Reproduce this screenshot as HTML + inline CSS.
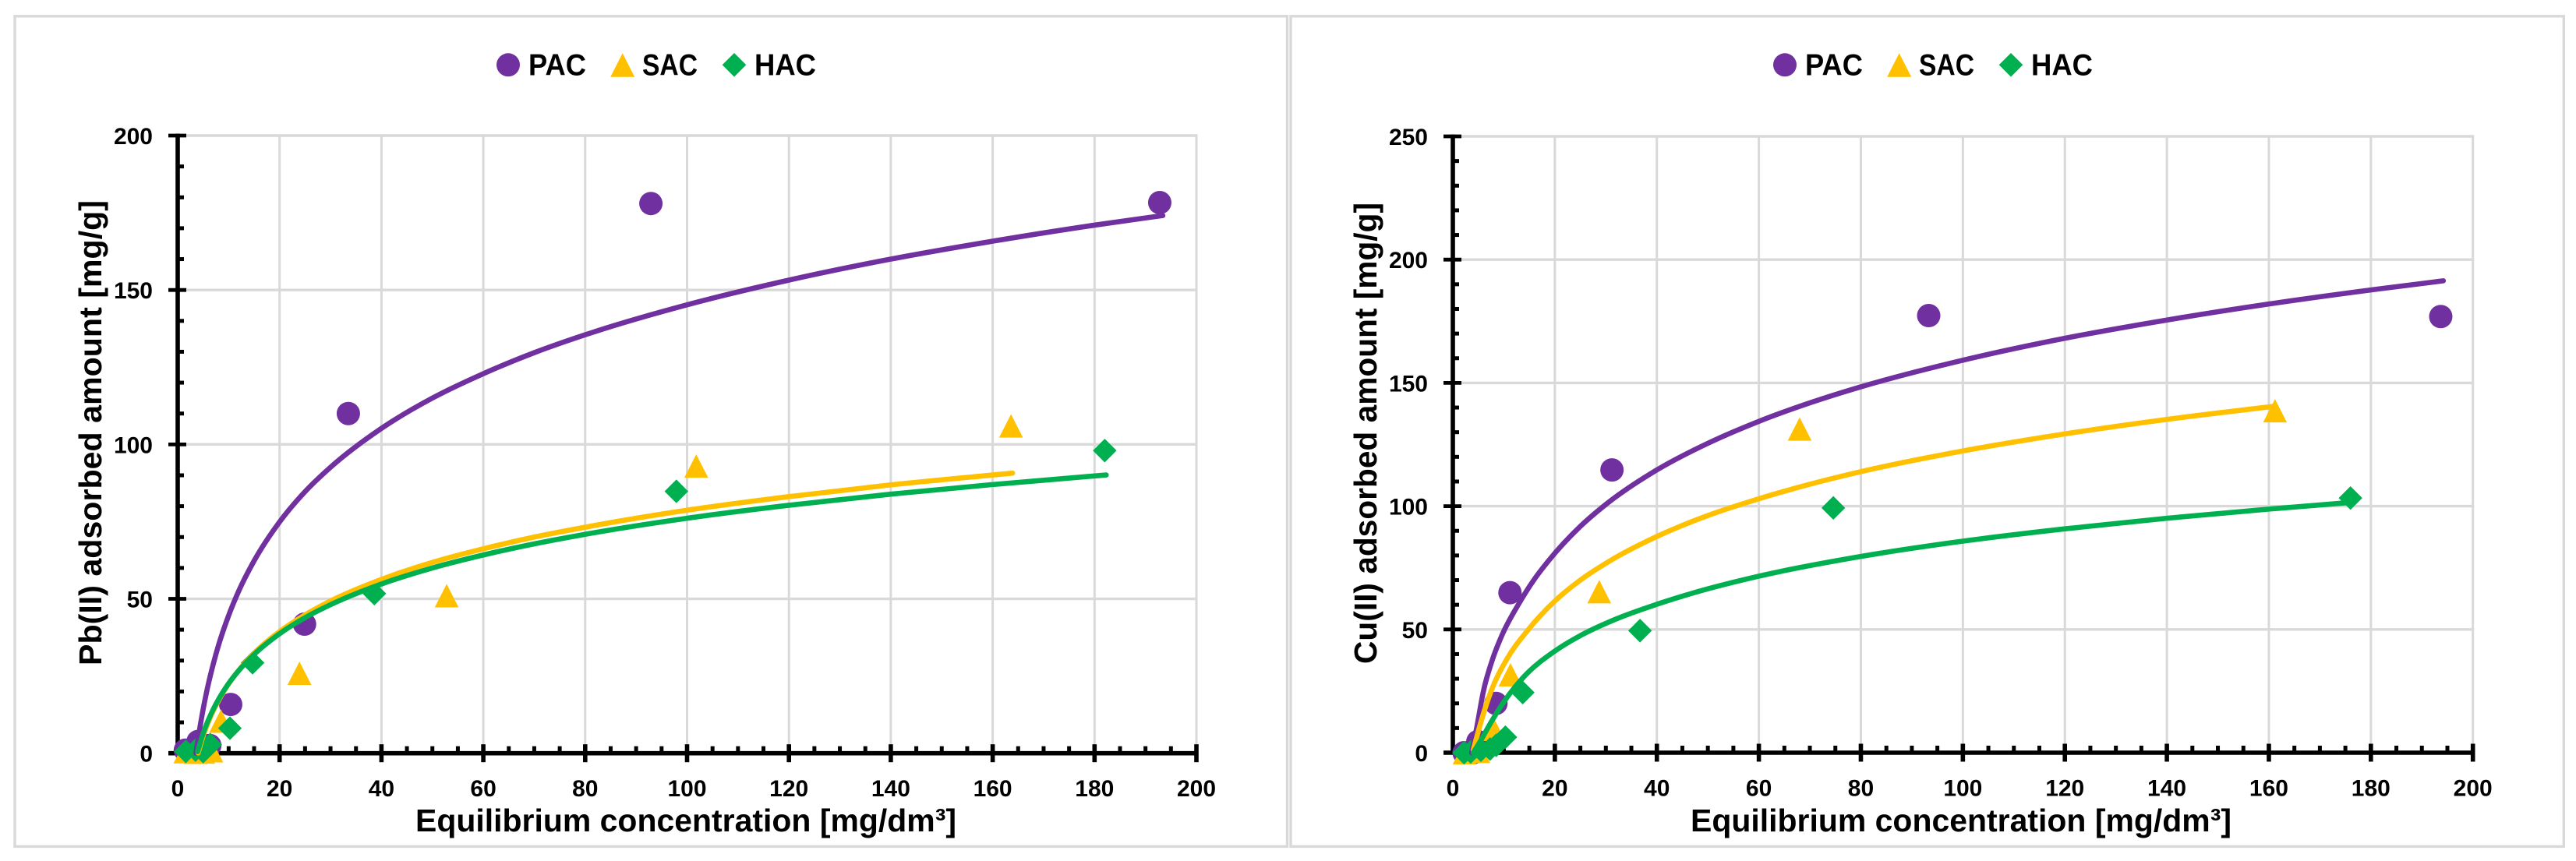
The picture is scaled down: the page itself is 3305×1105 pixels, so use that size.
<!DOCTYPE html>
<html lang="en">
<head>
<meta charset="utf-8">
<title>Pb(II) and Cu(II) adsorption isotherms</title>
<style>
html,body{margin:0;padding:0;background:#fff;width:3305px;height:1105px;overflow:hidden}
svg{display:block}
text{font-family:"Liberation Sans",Arial,sans-serif;font-weight:700;fill:#000}
</style>
</head>
<body>
<svg id="figure" xmlns="http://www.w3.org/2000/svg" width="3305" height="1105" viewBox="0 0 3305 1105">
  <rect x="0" y="0" width="3305" height="1105" fill="#fff"/>
  <rect x="19" y="20.8" width="1632.5" height="1065.6" fill="#fff" stroke="#d9d9d9" stroke-width="3.4"/>
  <rect x="1656" y="20.8" width="1633.3" height="1065.6" fill="#fff" stroke="#d9d9d9" stroke-width="3.4"/>
  <g id="left-chart"></g>
  <g id="right-chart"></g>

  <g>
    <circle cx="652" cy="83.3" r="15" fill="#7030A0"/>
    <text x="678" y="96.7" font-size="39" textLength="74" lengthAdjust="spacingAndGlyphs">PAC</text>
    <polygon points="798.7,68.3 814.2,98.7 783.2,98.7" fill="#FFC000"/>
    <text x="824" y="96.7" font-size="39" textLength="71" lengthAdjust="spacingAndGlyphs">SAC</text>
    <polygon points="942,68 957.3,83.3 942,98.6 926.7,83.3" fill="#00B050"/>
    <text x="968" y="96.7" font-size="39" textLength="79" lengthAdjust="spacingAndGlyphs">HAC</text>
  </g>
  <g transform="translate(1638 0)">
    <circle cx="652" cy="83.3" r="15" fill="#7030A0"/>
    <text x="678" y="96.7" font-size="39" textLength="74" lengthAdjust="spacingAndGlyphs">PAC</text>
    <polygon points="798.7,68.3 814.2,98.7 783.2,98.7" fill="#FFC000"/>
    <text x="824" y="96.7" font-size="39" textLength="71" lengthAdjust="spacingAndGlyphs">SAC</text>
    <polygon points="942,68 957.3,83.3 942,98.6 926.7,83.3" fill="#00B050"/>
    <text x="968" y="96.7" font-size="39" textLength="79" lengthAdjust="spacingAndGlyphs">HAC</text>
  </g>

  <text x="533" y="1067" font-size="41" textLength="694" lengthAdjust="spacingAndGlyphs">Equilibrium concentration [mg/dm³]</text>
  <text x="2169" y="1067" font-size="41" textLength="694" lengthAdjust="spacingAndGlyphs">Equilibrium concentration [mg/dm³]</text>
  <text x="130" y="854" font-size="41" textLength="597" lengthAdjust="spacingAndGlyphs" transform="rotate(-90 130 854)">Pb(II) adsorbed amount [mg/g]</text>
  <text x="1766" y="852" font-size="41" textLength="592" lengthAdjust="spacingAndGlyphs" transform="rotate(-90 1766 852)">Cu(II) adsorbed amount [mg/g]</text>
</svg>

<script>
/* ---------- shared axis values ---------- */
const xTickLabels = [0, 20, 40, 60, 80, 100, 120, 140, 160, 180, 200];
const xMinorStep = 5;
const yMinorStep = 10;

/* ---------- Pb(II) chart values ---------- */
const pbYTickLabels = [0, 50, 100, 150, 200];
const pbPacX = [1.5, 4, 6.3, 10.4, 24.9, 33.5, 92.9, 192.8];
const pbPacY = [1, 3.8, 2.5, 15.8, 41.8, 110, 178, 178.3];
const pbSacX = [1.5, 3.5, 5, 6.6, 8.5, 23.9, 52.8, 101.8, 163.6];
const pbSacY = [0.5, 0.3, 0.4, 0.8, 10.4, 25.9, 51, 93, 106];
const pbHacX = [1.6, 3.5, 5, 6.4, 10.25, 14.7, 38.6, 97.9, 182];
const pbHacY = [0.6, 1, 0.5, 2.8, 8.1, 29.3, 51.7, 84.8, 98];
const pbPacCurveX = [3.6, 4, 5, 6, 7, 8, 10, 12, 15, 20, 25, 30, 40, 50, 60, 70, 80, 100, 120, 140, 160, 180, 193.4];
const pbPacCurveY = [0, 4.6, 14.3, 22.3, 29, 34.9, 44.6, 52.6, 62.3, 74.9, 84.7, 92.6, 105.2, 115, 122.9, 129.7, 135.5, 145.2, 153.2, 160, 165.8, 171, 174.1];
const pbSacCurveX = [4, 5, 6, 7, 8, 10, 12, 15, 20, 25, 30, 40, 50, 60, 70, 80, 100, 120, 140, 163.9];
const pbSacCurveY = [0.1, 5.6, 10, 13.8, 17, 22.5, 26.9, 32.4, 39.4, 44.8, 49.3, 56.3, 61.8, 66.2, 70, 73.2, 78.7, 83.1, 86.9, 90.7];
const pbHacCurveX = [3.9, 5, 6, 7, 8, 10, 12, 15, 20, 25, 30, 40, 50, 60, 70, 80, 100, 120, 140, 160, 182.3];
const pbHacCurveY = [0.5, 6.4, 10.7, 14.3, 17.4, 22.6, 26.8, 32, 38.7, 43.9, 48.1, 54.8, 60, 64.2, 67.8, 70.9, 76.1, 80.3, 83.9, 87, 90.1];

/* ---------- Cu(II) chart values ---------- */
const cuYTickLabels = [0, 50, 100, 150, 200, 250];
const cuPacX = [2.2, 4, 4.9, 8.45, 11.2, 31.2, 93.3, 193.7];
const cuPacY = [0, 0, 4.5, 20, 64.9, 114.7, 177.3, 176.9];
const cuSacX = [2.3, 5, 8, 11.3, 28.7, 68, 161.2];
const cuSacY = [0, 0.5, 9.5, 31.6, 65.3, 131.3, 138.7];
const cuHacX = [2.2, 3.5, 5.5, 7.3, 8.5, 10.3, 13.7, 36.7, 74.6, 176];
const cuHacY = [0, 0.3, 1, 1.5, 3, 6.3, 24.4, 49.5, 99.3, 103.3];
const cuPacCurveX = [3.7, 4.7, 6, 7.8, 9.6, 13.1, 16.2, 18.7, 25, 30, 40, 50, 60, 70, 80, 100, 120, 140, 160, 180, 194.2];
const cuPacCurveY = [0, 10.4, 25, 38, 47.5, 61, 71, 77.7, 91.8, 100.7, 114.7, 125.5, 134.4, 141.9, 148.4, 159.2, 168.1, 175.5, 182, 187.7, 191.4];
const cuSacCurveX = [4, 5.5, 7.5, 10.6, 14.7, 20.2, 25, 30.7, 40, 50, 60, 70, 80, 100, 120, 140, 161];
const cuSacCurveY = [1, 12.4, 25, 38, 49.7, 61.9, 70, 77.7, 87.7, 96.2, 103, 108.9, 114, 122.4, 129.3, 135.2, 140.5];
const cuHacCurveX = [4, 5.2, 7.5, 10.1, 13.7, 20.2, 25, 31.5, 40, 46.8, 60, 80, 100, 120, 140, 160, 176];
const cuHacCurveY = [0, 4, 12.4, 20.9, 30.3, 41.5, 47.5, 53.8, 60.2, 64.6, 71.6, 79.6, 85.8, 90.8, 95.1, 98.8, 101.5];

/* ---------- drawing ---------- */
const SVG_NS = 'http://www.w3.org/2000/svg';
const PURPLE = '#7030A0', GOLD = '#FFC000', GREEN = '#00B050', GRID = '#d9d9d9';

function make(parent, tag, attrs) {
  const node = document.createElementNS(SVG_NS, tag);
  for (const key in attrs) node.setAttribute(key, attrs[key]);
  parent.appendChild(node);
  return node;
}

/* cubic Hermite through points that are strictly increasing in x,
   with tangents weighted for uneven spacing so the curve has no kinks */
function smoothPath(points) {
  const n = points.length;
  const h = [], s = [], m = [];
  for (let i = 0; i < n - 1; i++) {
    h[i] = points[i + 1][0] - points[i][0];
    s[i] = (points[i + 1][1] - points[i][1]) / h[i];
  }
  m[0] = s[0];
  m[n - 1] = s[n - 2];
  for (let i = 1; i < n - 1; i++) {
    m[i] = (s[i - 1] * h[i] + s[i] * h[i - 1]) / (h[i - 1] + h[i]);
  }
  let d = 'M' + points[0][0].toFixed(2) + ' ' + points[0][1].toFixed(2);
  for (let i = 0; i < n - 1; i++) {
    const c1x = points[i][0] + h[i] / 3, c1y = points[i][1] + m[i] * h[i] / 3;
    const c2x = points[i + 1][0] - h[i] / 3, c2y = points[i + 1][1] - m[i + 1] * h[i] / 3;
    d += ' C' + [c1x, c1y, c2x, c2y, points[i + 1][0], points[i + 1][1]].map(v => v.toFixed(2)).join(' ');
  }
  return d;
}

function drawChart(root, prefix, frame, yTicks, series) {
  const xMax = xTickLabels[xTickLabels.length - 1];
  const yMax = yTicks[yTicks.length - 1];
  const xScale = v => frame.x0 + (v / xMax) * (frame.x1 - frame.x0);
  const yScale = v => frame.y0 - (v / yMax) * (frame.y0 - frame.y1);

  /* gridlines */
  const gridGroup = make(root, 'g', {});
  
  
  xTickLabels.slice(1).forEach(v => {
    const line = make(gridGroup, 'line', {x1: xScale(v), x2: xScale(v), y1: frame.y0, y2: frame.y1 - 1.6, stroke: GRID, 'stroke-width': 3});
    
    
  });
  yTicks.slice(1).forEach(v => {
    const line = make(gridGroup, 'line', {x1: frame.x0, x2: frame.x1 + 1.5, y1: yScale(v), y2: yScale(v), stroke: GRID, 'stroke-width': 3.4});
    
    
  });

  /* axes */
  const axisGroup = make(root, 'g', {stroke: '#000'});
  
  
  const xAxisLine = make(axisGroup, 'line', {x1: frame.x0 - 12, x2: frame.x1 + 2.5, y1: frame.y0, y2: frame.y0, 'stroke-width': 5.6});
  
  
  const yAxisLine = make(axisGroup, 'line', {x1: frame.x0, x2: frame.x0, y1: frame.y0, y2: frame.y1 - 2.5, 'stroke-width': 5.6});
  
  

  for (let v = xMinorStep; v < xMax; v += xMinorStep) {
    if (v % 20 === 0) continue;
    const t = make(axisGroup, 'line', {x1: xScale(v), x2: xScale(v), y1: frame.y0, y2: frame.y0 - 9, 'stroke-width': 5});
    
    
  }
  for (let v = yMinorStep; v < yMax; v += yMinorStep) {
    if (v % 50 === 0) continue;
    const t = make(axisGroup, 'line', {x1: frame.x0, x2: frame.x0 + 8, y1: yScale(v), y2: yScale(v), 'stroke-width': 5});
    
    
  }
  xTickLabels.forEach(v => {
    if (v > 0) {
      const t = make(axisGroup, 'line', {x1: xScale(v), x2: xScale(v), y1: frame.y0 - 11.5, y2: frame.y0 + 11.5, 'stroke-width': 5.6});
      
      
    }
    const label = make(root, 'text', {x: xScale(v), y: frame.y0 + 55.5, 'font-size': 30, 'text-anchor': 'middle'});
    label.textContent = v;
    
    
  });
  yTicks.forEach(v => {
    const t = make(axisGroup, 'line', {x1: frame.x0 - 12, x2: frame.x0 + 11, y1: yScale(v), y2: yScale(v), 'stroke-width': 4.8});
    
    
    const label = make(root, 'text', {x: frame.x0 - 32, y: yScale(v) + 11, 'font-size': 30, 'text-anchor': 'end'});
    label.textContent = v;
    
    
  });

  /* markers first, fitted curves on top */
  series.forEach(s => {
    const group = make(root, 'g', {fill: s.color});
    
    
    s.xs.forEach((xv, i) => {
      const cx = xScale(xv), cy = yScale(s.ys[i]);
      let mark;
      if (s.shape === 'circle') {
        mark = make(group, 'circle', {cx: cx, cy: cy, r: 15});
      } else if (s.shape === 'triangle') {
        mark = make(group, 'polygon', {points: [cx, cy - 15, cx + 15.3, cy + 15, cx - 15.3, cy + 15].join(' ')});
      } else {
        mark = make(group, 'polygon', {points: [cx, cy - 15.2, cx + 15.2, cy, cx, cy + 15.2, cx - 15.2, cy].join(' ')});
      }
      
      
    });
  });
  series.forEach(s => {
    const pts = s.curveX.map((xv, i) => [xScale(xv), yScale(s.curveY[i])]);
    const curve = make(root, 'path', {d: smoothPath(pts), fill: 'none', stroke: s.color, 'stroke-width': 6.6, 'stroke-linecap': 'round', 'stroke-linejoin': 'round'});
    
    
  });
}

drawChart(document.getElementById('left-chart'), 'pb',
  {x0: 228, x1: 1535, y0: 966.7, y1: 174},
  pbYTickLabels,
  [
    {name: 'pac', color: PURPLE, shape: 'circle', xs: pbPacX, ys: pbPacY, curveX: pbPacCurveX, curveY: pbPacCurveY},
    {name: 'sac', color: GOLD, shape: 'triangle', xs: pbSacX, ys: pbSacY, curveX: pbSacCurveX, curveY: pbSacCurveY},
    {name: 'hac', color: GREEN, shape: 'diamond', xs: pbHacX, ys: pbHacY, curveX: pbHacCurveX, curveY: pbHacCurveY}
  ]);

drawChart(document.getElementById('right-chart'), 'cu',
  {x0: 1864, x1: 3172.7, y0: 966, y1: 175},
  cuYTickLabels,
  [
    {name: 'pac', color: PURPLE, shape: 'circle', xs: cuPacX, ys: cuPacY, curveX: cuPacCurveX, curveY: cuPacCurveY},
    {name: 'sac', color: GOLD, shape: 'triangle', xs: cuSacX, ys: cuSacY, curveX: cuSacCurveX, curveY: cuSacCurveY},
    {name: 'hac', color: GREEN, shape: 'diamond', xs: cuHacX, ys: cuHacY, curveX: cuHacCurveX, curveY: cuHacCurveY}
  ]);
</script>
</body>
</html>
